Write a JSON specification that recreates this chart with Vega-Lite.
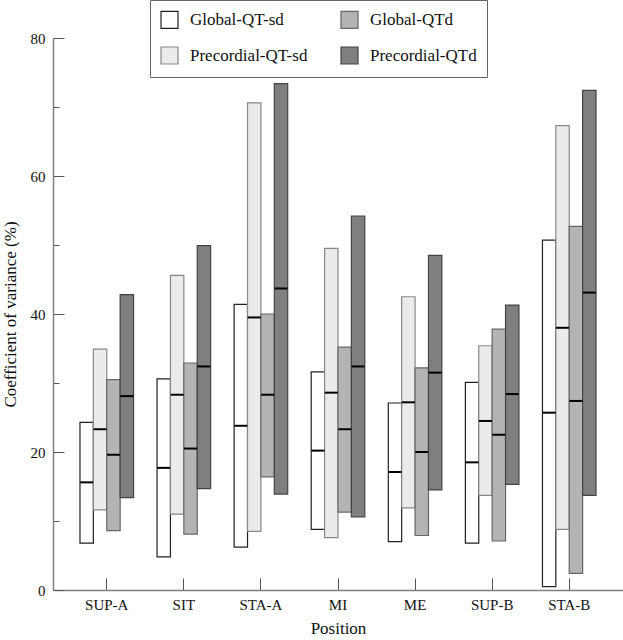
{
  "$schema": "https://vega.github.io/schema/vega-lite/v6.json",
  "width": 570,
  "height": 552,
  "autosize": {"type": "none"},
  "padding": {"left": 53, "top": 38, "right": 0, "bottom": 50},
  "background": "white",
  "config": {
    "view": {"stroke": null},
    "font": "Liberation Serif",
    "axis": {
      "labelFont": "Liberation Serif",
      "titleFont": "Liberation Serif",
      "labelColor": "#111",
      "titleColor": "#111",
      "labelFontSize": 15,
      "titleFontSize": 17,
      "titleFontWeight": "normal",
      "domainColor": "#808080",
      "domainWidth": 1.5,
      "tickColor": "#555",
      "tickWidth": 1,
      "grid": false
    },
    "legend": {"labelFont": "Liberation Serif"}
  },
  "data": {
    "values": [
      {"pos": "SUP-A", "series": "Global-QT-sd", "lo": 6.8, "med": 15.6, "hi": 24.3},
      {"pos": "SUP-A", "series": "Precordial-QT-sd", "lo": 11.6, "med": 23.3, "hi": 34.9},
      {"pos": "SUP-A", "series": "Global-QTd", "lo": 8.6, "med": 19.6, "hi": 30.5},
      {"pos": "SUP-A", "series": "Precordial-QTd", "lo": 13.4, "med": 28.1, "hi": 42.8},
      {"pos": "SIT", "series": "Global-QT-sd", "lo": 4.8, "med": 17.7, "hi": 30.6},
      {"pos": "SIT", "series": "Precordial-QT-sd", "lo": 11.0, "med": 28.3, "hi": 45.6},
      {"pos": "SIT", "series": "Global-QTd", "lo": 8.1, "med": 20.5, "hi": 32.9},
      {"pos": "SIT", "series": "Precordial-QTd", "lo": 14.7, "med": 32.4, "hi": 49.9},
      {"pos": "STA-A", "series": "Global-QT-sd", "lo": 6.2, "med": 23.8, "hi": 41.4},
      {"pos": "STA-A", "series": "Precordial-QT-sd", "lo": 8.5, "med": 39.5, "hi": 70.6},
      {"pos": "STA-A", "series": "Global-QTd", "lo": 16.4, "med": 28.3, "hi": 40.0},
      {"pos": "STA-A", "series": "Precordial-QTd", "lo": 13.9, "med": 43.7, "hi": 73.4},
      {"pos": "MI", "series": "Global-QT-sd", "lo": 8.8, "med": 20.2, "hi": 31.6},
      {"pos": "MI", "series": "Precordial-QT-sd", "lo": 7.6, "med": 28.6, "hi": 49.5},
      {"pos": "MI", "series": "Global-QTd", "lo": 11.3, "med": 23.3, "hi": 35.2},
      {"pos": "MI", "series": "Precordial-QTd", "lo": 10.6, "med": 32.4, "hi": 54.2},
      {"pos": "ME", "series": "Global-QT-sd", "lo": 7.0, "med": 17.1, "hi": 27.1},
      {"pos": "ME", "series": "Precordial-QT-sd", "lo": 11.9, "med": 27.2, "hi": 42.5},
      {"pos": "ME", "series": "Global-QTd", "lo": 7.9, "med": 20.0, "hi": 32.2},
      {"pos": "ME", "series": "Precordial-QTd", "lo": 14.5, "med": 31.5, "hi": 48.5},
      {"pos": "SUP-B", "series": "Global-QT-sd", "lo": 6.8, "med": 18.5, "hi": 30.1},
      {"pos": "SUP-B", "series": "Precordial-QT-sd", "lo": 13.7, "med": 24.5, "hi": 35.4},
      {"pos": "SUP-B", "series": "Global-QTd", "lo": 7.1, "med": 22.5, "hi": 37.8},
      {"pos": "SUP-B", "series": "Precordial-QTd", "lo": 15.3, "med": 28.4, "hi": 41.3},
      {"pos": "STA-B", "series": "Global-QT-sd", "lo": 0.5, "med": 25.7, "hi": 50.7},
      {"pos": "STA-B", "series": "Precordial-QT-sd", "lo": 8.8, "med": 38.0, "hi": 67.3},
      {"pos": "STA-B", "series": "Global-QTd", "lo": 2.4, "med": 27.4, "hi": 52.7},
      {"pos": "STA-B", "series": "Precordial-QTd", "lo": 13.7, "med": 43.1, "hi": 72.4}
    ]
  },
  "encoding": {
    "x": {
      "field": "pos",
      "type": "nominal",
      "sort": ["SUP-A", "SIT", "STA-A", "MI", "ME", "SUP-B", "STA-B"],
      "scale": {"paddingInner": 0.305, "paddingOuter": 0.35},
      "axis": {
        "title": "Position",
        "labelAngle": 0,
        "tickSize": -12,
        "labelPadding": 19,
        "titlePadding": 8
      }
    },
    "xOffset": {
      "field": "series",
      "type": "nominal",
      "sort": ["Global-QT-sd", "Precordial-QT-sd", "Global-QTd", "Precordial-QTd"],
      "scale": {"paddingInner": 0, "paddingOuter": 0}
    }
  },
  "layer": [
    {
      "mark": {"type": "bar", "strokeWidth": 1.2},
      "encoding": {
        "y": {
          "field": "lo",
          "type": "quantitative",
          "scale": {"domain": [0, 80], "nice": false},
          "axis": {
            "title": "Coefficient of variance (%)",
            "values": [0, 10, 20, 30, 40, 50, 60, 70, 80],
            "labelExpr": "datum.value % 20 === 0 ? datum.label : ''",
            "tickSize": {"condition": {"test": "datum.value % 20 === 0", "value": -11}, "value": -6},
            "labelPadding": 19,
            "titlePadding": 11
          }
        },
        "y2": {"field": "hi"},
        "fill": {
          "field": "series",
          "type": "nominal",
          "scale": {
            "domain": ["Global-QT-sd", "Global-QTd", "Precordial-QT-sd", "Precordial-QTd"],
            "range": ["#ffffff", "#b4b4b4", "#ebebeb", "#7f7f7f"]
          },
          "legend": {
            "title": null,
            "orient": "none",
            "direction": "horizontal",
            "legendX": 97,
            "legendY": -38,
            "columns": 2,
            "symbolType": "square",
            "symbolSize": 289,
            "symbolStrokeWidth": 1.2,
            "labelFontSize": 17,
            "labelColor": "#111",
            "labelOffset": 11,
            "rowPadding": 13,
            "columnPadding": 30,
            "padding": 10,
            "strokeColor": "#666",
            "fillColor": "white"
          }
        },
        "stroke": {
          "field": "series",
          "type": "nominal",
          "scale": {
            "domain": ["Global-QT-sd", "Global-QTd", "Precordial-QT-sd", "Precordial-QTd"],
            "range": ["#222222", "#666666", "#888888", "#444444"]
          },
          "legend": {
            "title": null,
            "orient": "none",
            "direction": "horizontal",
            "legendX": 97,
            "legendY": -38,
            "columns": 2,
            "symbolType": "square",
            "symbolSize": 289,
            "symbolStrokeWidth": 1.2,
            "labelFontSize": 17,
            "labelColor": "#111",
            "labelOffset": 11,
            "rowPadding": 13,
            "columnPadding": 30,
            "padding": 10,
            "strokeColor": "#666",
            "fillColor": "white"
          }
        }
      }
    },
    {
      "mark": {"type": "tick", "color": "black", "thickness": 2, "size": 13, "opacity": 1},
      "encoding": {
        "y": {"field": "med", "type": "quantitative"}
      }
    }
  ]
}
